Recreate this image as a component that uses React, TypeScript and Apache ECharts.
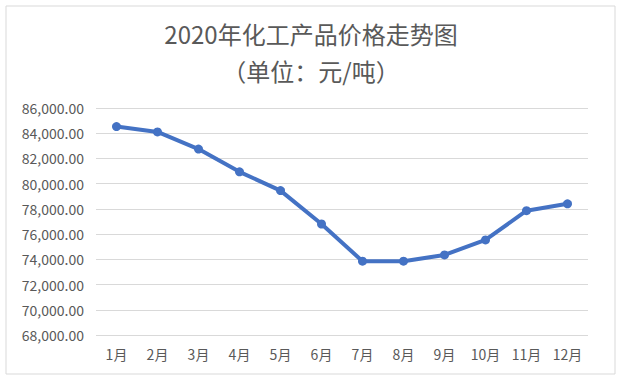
import React, { useEffect, useRef } from "react";
import * as echarts from "echarts";

const months = ["1月", "2月", "3月", "4月", "5月", "6月", "7月", "8月", "9月", "10月", "11月", "12月"];
const prices = [84530, 84100, 82740, 80940, 79450, 76800, 73850, 73850, 74350, 75540, 77860, 78400];
const titleText = "2020年化工产品价格走势图";
const subtitleText = "（单位：元/吨）";
const yMin = 68000;
const yMax = 86000;
const yStep = 2000;

const FONT = "'Noto Sans CJK SC', 'Noto Sans', sans-serif";

export default function App() {
  const ref = useRef<HTMLDivElement>(null);
  useEffect(() => {
    if (!ref.current) return;
    const chart = echarts.init(ref.current, null, { renderer: "svg" });
    chart.setOption({
      animation: false,
      backgroundColor: "#ffffff",
      textStyle: { fontFamily: FONT },
      graphic: [
        {
          type: "rect",
          shape: { x: 6, y: 6, width: 609, height: 368 },
          style: { fill: "none", stroke: "#d9d9d9", lineWidth: 1 },
          silent: true,
        },
        {
          type: "text",
          x: 311,
          y: 33,
          style: {
            text: titleText,
            fill: "#595959",
            font: `24px ${FONT}`,
            textAlign: "center",
            textVerticalAlign: "middle",
          },
        },
        {
          type: "text",
          x: 311,
          y: 70,
          style: {
            text: subtitleText,
            fill: "#595959",
            font: `24px ${FONT}`,
            textAlign: "center",
            textVerticalAlign: "middle",
          },
        },
      ],
      grid: { left: 96, right: 37, top: 108, bottom: 49, containLabel: false },
      xAxis: {
        type: "category",
        data: months,
        boundaryGap: true,
        axisLine: { show: false },
        axisTick: { show: false },
        axisLabel: { color: "#595959", fontSize: 14, margin: 12, fontFamily: FONT },
      },
      yAxis: {
        type: "value",
        min: yMin,
        max: yMax,
        interval: yStep,
        axisLine: { show: false },
        axisTick: { show: false },
        splitLine: { lineStyle: { color: "#d9d9d9", width: 1 } },
        axisLabel: {
          color: "#595959",
          fontSize: 14,
          margin: 12,
          fontFamily: FONT,
          formatter: (v: number) =>
            v.toLocaleString("en-US", { minimumFractionDigits: 2, maximumFractionDigits: 2 }),
        },
      },
      series: [
        {
          type: "line",
          data: prices,
          symbol: "circle",
          symbolSize: 9,
          lineStyle: { color: "#4472C4", width: 4 },
          itemStyle: { color: "#4472C4" },
        },
      ],
    });
    return () => chart.dispose();
  }, []);
  return (
    <div
      ref={ref}
      style={{ position: "absolute", left: 0, top: 0, width: 625, height: 384 }}
    />
  );
}
